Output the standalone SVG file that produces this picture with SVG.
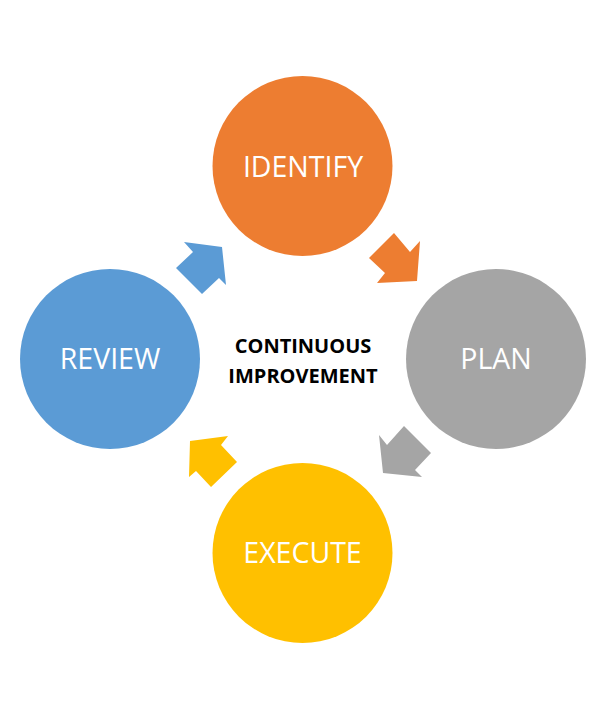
<svg xmlns="http://www.w3.org/2000/svg" width="604" height="712" viewBox="0 0 604 712">
<style>
.lbl{font-family:"Open Sans","Liberation Sans",sans-serif;font-size:28.5px;fill:#fff;text-anchor:middle}
.ctr{font-family:"Open Sans","Liberation Sans",sans-serif;font-size:20px;font-weight:bold;fill:#000;text-anchor:middle}
</style>
<rect width="604" height="712" fill="#fff"/>
<g id="identify"><circle cx="302.5" cy="166" r="90" fill="#ED7D31"/><text class="lbl" x="303" y="177">IDENTIFY</text></g>
<g id="plan"><circle cx="496" cy="359" r="90" fill="#A5A5A5"/><text class="lbl" x="496" y="369">PLAN</text></g>
<g id="execute"><circle cx="302.5" cy="553" r="90" fill="#FFC000"/><text class="lbl" x="302.5" y="563">EXECUTE</text></g>
<g id="review"><circle cx="110" cy="359" r="90" fill="#5B9BD5"/><text class="lbl" x="110" y="369">REVIEW</text></g>
<g id="center"><text class="ctr" x="303" y="353">CONTINUOUS</text><text class="ctr" x="303" y="383">IMPROVEMENT</text></g>
<g id="connectors">
<polygon fill="#ED7D31" points="394,233 410,252 420,241 417,281 377,283 385,273 369,258"/>
<polygon fill="#A5A5A5" points="404,426 431,453 415,470 422,477 383,473 379,435 387,445"/>
<polygon fill="#FFC000" points="190,441 228,436 221,445 237,462 211,487 196,471 189,477"/>
<polygon fill="#5B9BD5" points="184,242 222,247 226,285 219,278 202,294 176,268 193,252"/>
</g>
</svg>
